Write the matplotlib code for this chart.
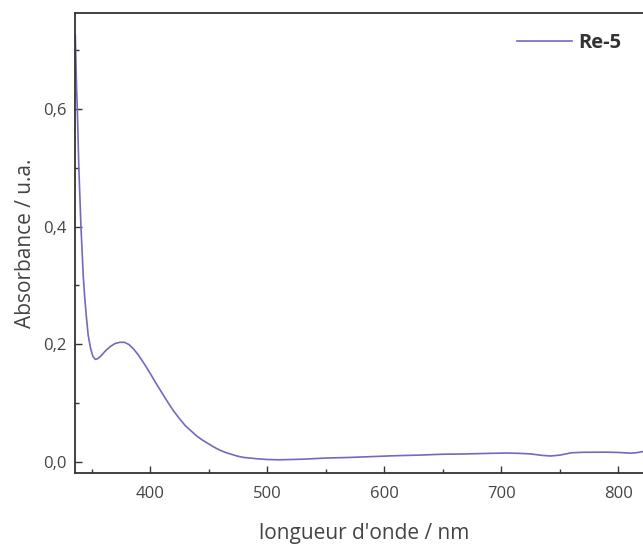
import matplotlib
matplotlib.use('Agg')
import matplotlib.pyplot as plt
from matplotlib.ticker import MultipleLocator, FuncFormatter

plt.rcParams['font.family'] = ['Open Sans', 'DejaVu Sans']

# spectre UV-vis
wavelength = [336, 337, 337.7, 339, 340.8, 342.8, 344, 345.5, 347, 349, 351, 353,
              355, 358, 362, 366, 370, 374, 378, 382, 386, 390, 395, 400, 405,
              410, 415, 420, 425, 430, 435, 440, 445, 450, 455, 460, 465, 470,
              475, 480, 490, 500, 510, 520, 530, 550, 570, 590, 610, 630, 650,
              670, 690, 705, 715, 725, 735, 742, 750, 760, 770, 790, 800, 810,
              815, 821, 825]
absorbance = [0.725, 0.64, 0.60, 0.50, 0.40, 0.315, 0.28, 0.245, 0.215, 0.193,
              0.179, 0.174, 0.175, 0.180, 0.189, 0.196, 0.201, 0.203, 0.203,
              0.199, 0.191, 0.181, 0.166, 0.150, 0.133, 0.117, 0.101, 0.086,
              0.073, 0.061, 0.052, 0.043, 0.036, 0.030, 0.024, 0.019, 0.015,
              0.012, 0.009, 0.007, 0.005, 0.0035, 0.003, 0.0035, 0.004, 0.006,
              0.007, 0.0085, 0.010, 0.011, 0.0125, 0.013, 0.014, 0.0145, 0.014,
              0.013, 0.0105, 0.0095, 0.011, 0.015, 0.0158, 0.016, 0.0155,
              0.0143, 0.015, 0.017, 0.017]
label = 'Re-5'

fig = plt.figure(figsize=(6.43, 5.47), dpi=100)
# l'axe depasse a droite (figure coupee)
ax = fig.add_axes([0.1166, 0.1347, 0.8998, 0.841])

ax.plot(wavelength, absorbance, color='#716bbb', lw=1.2, label=label)

ax.set_xlim(335.7, 830)
ax.set_ylim(-0.02, 0.763)

ax.xaxis.set_major_locator(MultipleLocator(100))
ax.xaxis.set_minor_locator(MultipleLocator(50))
ax.yaxis.set_major_locator(MultipleLocator(0.2))
ax.yaxis.set_minor_locator(MultipleLocator(0.1))
ax.yaxis.set_major_formatter(FuncFormatter(lambda v, p: f'{v:.1f}'.replace('.', ',')))

ax.tick_params(which='both', direction='in', colors='#333333', labelcolor='#444444')
ax.tick_params(which='major', length=5, width=1, labelsize=12)
ax.tick_params(which='minor', length=3, width=1)
ax.tick_params(axis='x', which='major', pad=9)
ax.tick_params(axis='y', which='major', pad=6)
for s in ax.spines.values():
    s.set_linewidth(1.3)
    s.set_color('#333333')

ax.set_xlabel("longueur d'onde / nm", fontsize=15, color='#444444', labelpad=15)
ax.set_ylabel('Absorbance / u.a.', fontsize=15, color='#444444', labelpad=5)

leg = fig.legend(loc='upper left', bbox_to_anchor=(517 / 643, 1 - 33 / 547),
                 frameon=False, borderpad=0, borderaxespad=0, handlelength=2.75,
                 handletextpad=0.3, prop={'size': 14.5, 'weight': 'bold'})
for t in leg.get_texts():
    t.set_color('#333333')

fig.savefig('out.png', dpi=100)
